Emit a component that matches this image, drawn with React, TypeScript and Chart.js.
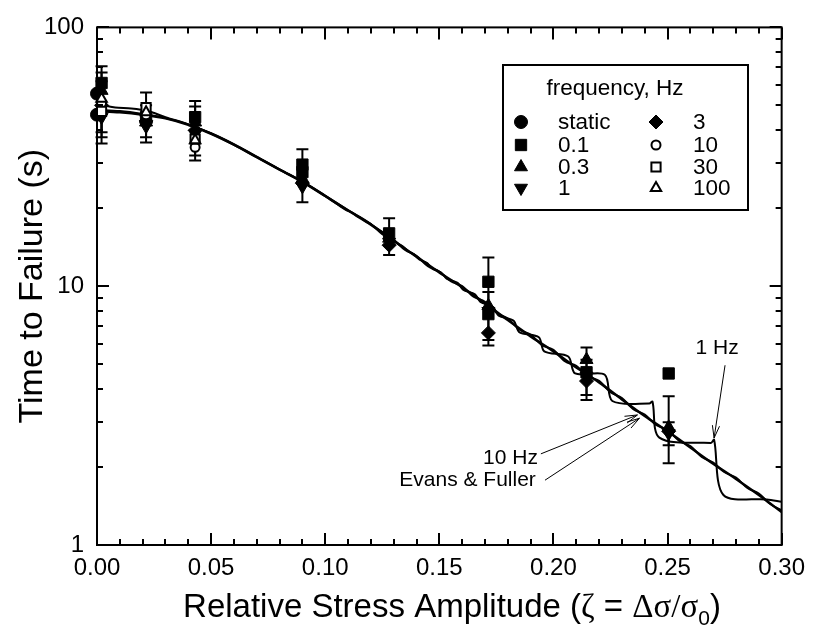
import React, { useEffect, useRef } from 'react';
import { Chart, registerables } from 'chart.js';

Chart.register(...registerables);

// ---------- axis ticks ----------
const X_TICKS = [0, 0.05, 0.1, 0.15, 0.2, 0.25, 0.3];
const Y_TICKS = [1, 10, 100];

// ---------- curves ----------
const EF_X = [0, 0.01, 0.02, 0.03, 0.04, 0.05, 0.06, 0.07, 0.08, 0.09, 0.1, 0.11, 0.12, 0.13, 0.14, 0.15, 0.16, 0.17, 0.18, 0.19, 0.2, 0.21, 0.22, 0.23, 0.24, 0.25, 0.26, 0.27, 0.28, 0.29, 0.3];
const EF_Y = [47.5, 47, 46, 44.5, 42, 38.8, 35.2, 31.5, 28.2, 25.3, 22.3, 19.6, 17.3, 15.0, 13.0, 11.3, 9.9, 8.6, 7.4, 6.4, 5.6, 4.85, 4.25, 3.65, 3.15, 2.75, 2.38, 2.06, 1.8, 1.56, 1.34];

const HZ10_X = [0, 0.01, 0.02, 0.03, 0.04, 0.05, 0.06, 0.07, 0.08, 0.09, 0.1, 0.11, 0.12, 0.125, 0.13, 0.135, 0.14, 0.145, 0.15, 0.155, 0.16, 0.165, 0.17, 0.175, 0.18, 0.185, 0.19, 0.195, 0.2, 0.205, 0.21, 0.215, 0.22, 0.225, 0.23, 0.235, 0.24, 0.245, 0.25, 0.255, 0.26, 0.265, 0.27, 0.275, 0.28, 0.285, 0.29, 0.295, 0.3];
const HZ10_Y = [48, 47.5, 46.3, 44.7, 42.2, 39, 35.4, 31.7, 28.3, 25.4, 22.4, 19.7, 17.4, 15.9, 15.1, 13.8, 13.1, 11.95, 11.4, 10.45, 10.0, 9.1, 8.7, 7.9, 7.5, 6.8, 6.5, 5.92, 5.68, 5.13, 4.92, 4.49, 4.31, 3.89, 3.7, 3.35, 3.19, 2.91, 2.78, 2.53, 2.41, 2.19, 2.08, 1.91, 1.82, 1.66, 1.58, 1.44, 1.36];

const HZ1_X = [0, 0.004, 0.008, 0.015, 0.022, 0.03, 0.04, 0.05, 0.06, 0.07, 0.08, 0.09, 0.1, 0.1068, 0.1092, 0.1115, 0.1139, 0.1158, 0.1182, 0.1203, 0.1227, 0.1246, 0.127, 0.1288, 0.1312, 0.1338, 0.1362, 0.1388, 0.1412, 0.1445, 0.1469, 0.1508, 0.1532, 0.158, 0.1604, 0.1656, 0.168, 0.1736, 0.176, 0.1826, 0.185, 0.1936, 0.196, 0.2065, 0.2095, 0.2225, 0.2258, 0.242, 0.2434, 0.2464, 0.269, 0.2704, 0.2745, 0.2935, 0.3];
const HZ1_Y = [51.5, 49.8, 49.0, 48.6, 47.6, 45.0, 42.2, 38.9, 35.2, 31.5, 28.2, 25.3, 22.3, 20.3, 19.7, 19.3, 18.7, 18.3, 17.7, 17.3, 16.7, 16.3, 15.7, 15.3, 14.7, 14.3, 13.7, 13.3, 12.7, 12.3, 11.7, 11.3, 10.7, 10.3, 9.7, 9.3, 8.7, 8.3, 7.7, 7.35, 6.65, 6.35, 5.6, 5.35, 4.6, 4.55, 3.6, 3.52, 3.58, 2.6, 2.48, 2.55, 1.56, 1.5, 1.47];

// ---------- measured points ----------
const STATIC_X = [0, 0];
const STATIC_Y = [55.5, 46];
const F01_X = [0.002, 0.0215, 0.043, 0.09, 0.09, 0.128, 0.1715, 0.1715, 0.2145, 0.2505];
const F01_Y = [61, 45, 45, 29.5, 27.6, 16, 10.4, 7.8, 4.65, 4.6];
const F03_X = [0.002, 0.0215, 0.043, 0.09, 0.128, 0.1715, 0.2145, 0.2505];
const F03_Y = [57, 43, 43, 26, 15.3, 8.4, 5.2, 2.85];
const F1_X = [0.002, 0.0215, 0.043, 0.09, 0.128, 0.1715, 0.2145, 0.2505];
const F1_Y = [45, 41.5, 38.8, 24.3, 14.8, 8.0, 4.5, 2.7];
const F3_X = [0.002, 0.0215, 0.043, 0.09, 0.128, 0.1715, 0.2145, 0.2505];
const F3_Y = [50, 43.5, 40, 25, 14.4, 6.6, 4.3, 2.75];
const F10_X = [0.002, 0.0215, 0.043];
const F10_Y = [51, 46, 34.4];
const F30_X = [0.002, 0.0215, 0.043];
const F30_Y = [47.4, 49, 37];
const F100_X = [0.002, 0.0215, 0.043];
const F100_Y = [53, 47, 36.6];

// ---------- error bars ----------
const ERR_X = [0.002, 0.002, 0.002, 0.0215, 0.0215, 0.043, 0.043, 0.09, 0.128, 0.1715, 0.1715, 0.2145, 0.2145, 0.2505, 0.2505];
const ERR_LO = [35.6, 37.6, 39.3, 37.6, 35.9, 32, 30.6, 21.1, 13.2, 6.2, 5.9, 3.8, 3.63, 2.07, 2.43];
const ERR_HI = [70.7, 67, 62, 56, 50, 52, 49.5, 33.8, 18.3, 12.9, 9.5, 5.8, 5.2, 3.76, 2.98];

const LEGEND_TITLE = 'frequency, Hz';
const SERIES_LABELS = ['static', '0.1', '0.3', '1', '3', '10', '30', '100'];

const FONT = "'Liberation Sans', Arial, sans-serif";

type MarkerStyle = { style: string; r: number; rot: number; filled: boolean };
const MARKERS: MarkerStyle[] = [
  { style: 'circle', r: 6.5, rot: 0, filled: true },
  { style: 'rect', r: 8, rot: 0, filled: true },
  { style: 'triangle', r: 7.5, rot: 0, filled: true },
  { style: 'triangle', r: 7.5, rot: 180, filled: true },
  { style: 'rectRot', r: 7, rot: 0, filled: true },
  { style: 'circle', r: 4.5, rot: 0, filled: false },
  { style: 'rect', r: 6.5, rot: 0, filled: false },
  { style: 'triangle', r: 6, rot: 0, filled: false },
];

function pts(xs: number[], ys: number[]) {
  return xs.map((x, i) => ({ x, y: ys[i] }));
}

function drawMarker(ctx: CanvasRenderingContext2D, m: MarkerStyle, x: number, y: number) {
  const r = m.r;
  ctx.beginPath();
  if (m.style === 'circle') {
    ctx.arc(x, y, r, 0, Math.PI * 2);
  } else if (m.style === 'rect') {
    const s = r * Math.SQRT1_2;
    ctx.rect(x - s, y - s, 2 * s, 2 * s);
  } else if (m.style === 'rectRot') {
    ctx.moveTo(x - r, y);
    ctx.lineTo(x, y - r);
    ctx.lineTo(x + r, y);
    ctx.lineTo(x, y + r);
    ctx.closePath();
  } else if (m.style === 'triangle') {
    let rad = (m.rot * Math.PI) / 180;
    ctx.moveTo(x + Math.sin(rad) * r, y - Math.cos(rad) * r);
    rad += (2 * Math.PI) / 3;
    ctx.lineTo(x + Math.sin(rad) * r, y - Math.cos(rad) * r);
    rad += (2 * Math.PI) / 3;
    ctx.lineTo(x + Math.sin(rad) * r, y - Math.cos(rad) * r);
    ctx.closePath();
  }
  ctx.fillStyle = m.filled ? '#000' : '#fff';
  ctx.fill();
  ctx.lineWidth = m.filled ? 1 : 2;
  ctx.strokeStyle = '#000';
  ctx.stroke();
}

function arrow(ctx: CanvasRenderingContext2D, x1: number, y1: number, x2: number, y2: number) {
  ctx.beginPath();
  ctx.moveTo(x1, y1);
  ctx.lineTo(x2, y2);
  const a = Math.atan2(y2 - y1, x2 - x1);
  const L = 13;
  const w = 0.28;
  ctx.moveTo(x2 - L * Math.cos(a - w), y2 - L * Math.sin(a - w));
  ctx.lineTo(x2, y2);
  ctx.lineTo(x2 - L * Math.cos(a + w), y2 - L * Math.sin(a + w));
  ctx.stroke();
}

export default function App() {
  const ref = useRef<HTMLCanvasElement | null>(null);

  useEffect(() => {
    if (!ref.current) return;

    const seriesXY = [
      [STATIC_X, STATIC_Y], [F01_X, F01_Y], [F03_X, F03_Y], [F1_X, F1_Y],
      [F3_X, F3_Y], [F10_X, F10_Y], [F30_X, F30_Y], [F100_X, F100_Y],
    ];

    const markerSets: any[] = seriesXY.map(([xs, ys], i) => {
      const m = MARKERS[i];
      return {
        label: SERIES_LABELS[i],
        data: pts(xs, ys),
        showLine: false,
        pointStyle: m.style,
        pointRadius: m.r,
        pointRotation: m.rot,
        backgroundColor: m.filled ? '#000' : '#fff',
        borderColor: '#000',
        borderWidth: m.filled ? 1 : 2,
        clip: false,
        order: 8 - i,
      };
    });

    const lineSet = (label: string, xs: number[], ys: number[], w: number, smooth: any) => ({
      label,
      data: pts(xs, ys),
      showLine: true,
      pointRadius: 0,
      borderColor: '#000',
      borderWidth: w,
      ...smooth,
      fill: false,
      order: 20,
    });

    const errorPlugin = {
      id: 'errbars',
      beforeDatasetsDraw(chart: any) {
        const { ctx, scales } = chart;
        ctx.save();
        ctx.strokeStyle = '#000';
        ctx.lineWidth = 2;
        ERR_X.forEach((xv, i) => {
          const px = scales.x.getPixelForValue(xv);
          const lo = scales.y.getPixelForValue(ERR_LO[i]);
          const hi = scales.y.getPixelForValue(ERR_HI[i]);
          ctx.beginPath();
          ctx.moveTo(px, lo);
          ctx.lineTo(px, hi);
          ctx.moveTo(px - 6, lo);
          ctx.lineTo(px + 6, lo);
          ctx.moveTo(px - 6, hi);
          ctx.lineTo(px + 6, hi);
          ctx.stroke();
        });
        ctx.restore();
      },
    };

    const framePlugin = {
      id: 'frame',
      afterDraw(chart: any) {
        const { ctx, chartArea, scales } = chart;
        const { left, right, top, bottom } = chartArea;
        ctx.save();
        ctx.strokeStyle = '#000';
        ctx.lineWidth = 2;
        ctx.strokeRect(left, top, right - left, bottom - top);
        ctx.beginPath();
        for (let k = 0; k <= 30; k++) {
          const v = k / 100;
          const px = Math.round(scales.x.getPixelForValue(v));
          const len = k % 5 === 0 ? 12 : 6;
          ctx.moveTo(px, bottom);
          ctx.lineTo(px, bottom - len);
          ctx.moveTo(px, top);
          ctx.lineTo(px, top + len);
        }
        [1, 10].forEach((dec) => {
          for (let k = 1; k <= 10; k++) {
            const v = dec * k;
            const py = Math.round(scales.y.getPixelForValue(v));
            const len = k === 1 || k === 10 ? 12 : 6;
            ctx.moveTo(left, py);
            ctx.lineTo(left + len, py);
            ctx.moveTo(right, py);
            ctx.lineTo(right - len, py);
          }
        });
        ctx.stroke();

        ctx.fillStyle = '#000';
        ctx.textBaseline = 'alphabetic';
        // y title
        ctx.save();
        ctx.translate(42, (top + bottom) / 2);
        ctx.rotate(-Math.PI / 2);
        ctx.font = `34px ${FONT}`;
        ctx.textAlign = 'center';
        ctx.fillText('Time to Failure (s)', 0, 0);
        ctx.restore();

        // x title with greek + subscript
        const parts: [string, string, number][] = [
          ['Relative Stress Amplitude (', `33px ${FONT}`, 0],
          ['\u03B6', "33px 'Liberation Serif', serif", 0],
          [' = ', `33px ${FONT}`, 0],
          ['\u0394\u03C3/\u03C3', "33px 'Liberation Serif', serif", 0],
          ['0', `21px ${FONT}`, 8],
          [')', `33px ${FONT}`, 0],
        ];
        let total = 0;
        parts.forEach(([t, f]) => { ctx.font = f; total += ctx.measureText(t).width; });
        let cx = 452 - total / 2;
        const base = 617;
        ctx.textAlign = 'left';
        parts.forEach(([t, f, dy]) => {
          ctx.font = f;
          ctx.fillText(t, cx, base + dy);
          cx += ctx.measureText(t).width;
        });

        // annotations
        const X = (v: number) => scales.x.getPixelForValue(v);
        const Y = (v: number) => scales.y.getPixelForValue(v);
        ctx.font = `21px ${FONT}`;
        ctx.textBaseline = 'middle';
        ctx.textAlign = 'right';
        ctx.fillText('10 Hz', X(0.1932), Y(2.17));
        ctx.fillText('Evans & Fuller', X(0.1923), Y(1.78));
        ctx.textAlign = 'center';
        ctx.fillText('1 Hz', X(0.2717), Y(5.76));
        ctx.lineWidth = 1;
        arrow(ctx, X(0.1945), Y(2.25), X(0.2368), Y(3.18));
        arrow(ctx, X(0.1963), Y(1.78), X(0.2377), Y(3.09));
        arrow(ctx, X(0.2752), Y(4.95), X(0.2704), Y(2.59));

        // legend box
        ctx.lineWidth = 2;
        ctx.strokeRect(503, 65, 245, 145);
        ctx.font = `22.5px ${FONT}`;
        ctx.textAlign = 'center';
        ctx.fillText(LEGEND_TITLE, 615, 89);
        ctx.textAlign = 'left';
        const rows = [122, 145, 167, 188];
        SERIES_LABELS.forEach((lab, i) => {
          const col = i < 4 ? 0 : 1;
          const row = i % 4;
          const mx = col === 0 ? 521 : 656;
          const tx = col === 0 ? 558 : 693;
          drawMarker(ctx, MARKERS[i], mx, rows[row]);
          ctx.fillStyle = '#000';
          ctx.font = `22.5px ${FONT}`;
          ctx.fillText(lab, tx, rows[row] + 1);
        });
        ctx.restore();
      },
    };

    const chart = new Chart(ref.current, {
      type: 'scatter',
      data: {
        datasets: [
          ...markerSets,
          lineSet('Evans & Fuller', EF_X, EF_Y, 2.5, { cubicInterpolationMode: 'monotone' }),
          lineSet('10 Hz', HZ10_X, HZ10_Y, 2, { cubicInterpolationMode: 'monotone' }),
          lineSet('1 Hz', HZ1_X, HZ1_Y, 2, { tension: 0.3 }),
        ],
      },
      options: {
        animation: false,
        responsive: true,
        maintainAspectRatio: false,
        layout: { padding: { top: 27, right: 27, left: 0, bottom: 0 } },
        plugins: { legend: { display: false }, tooltip: { enabled: false } },
        scales: {
          x: {
            type: 'linear',
            min: 0,
            max: 0.3,
            grid: { display: false, drawTicks: false },
            border: { display: false },
            afterBuildTicks: (s: any) => { s.ticks = X_TICKS.map((v) => ({ value: v })); },
            afterFit: (s: any) => { s.height = 83; },
            ticks: {
              autoSkip: false,
              maxRotation: 0,
              padding: 9,
              color: '#000',
              font: { family: FONT, size: 24 },
              callback: (v: any) => Number(v).toFixed(2),
            },
          },
          y: {
            type: 'logarithmic',
            min: 1,
            max: 100,
            grid: { display: false, drawTicks: false },
            border: { display: false },
            afterBuildTicks: (s: any) => { s.ticks = Y_TICKS.map((v) => ({ value: v })); },
            afterFit: (s: any) => { s.width = 97; },
            ticks: {
              autoSkip: false,
              padding: 13,
              color: '#000',
              font: { family: FONT, size: 24 },
              callback: (v: any) => String(v),
            },
          },
        },
      } as any,
      plugins: [errorPlugin, framePlugin],
    });

    return () => chart.destroy();
  }, []);

  return (
    <div style={{ position: 'absolute', left: 0, top: 0, width: 814, height: 628, background: '#fff' }}>
      <canvas ref={ref} />
    </div>
  );
}
